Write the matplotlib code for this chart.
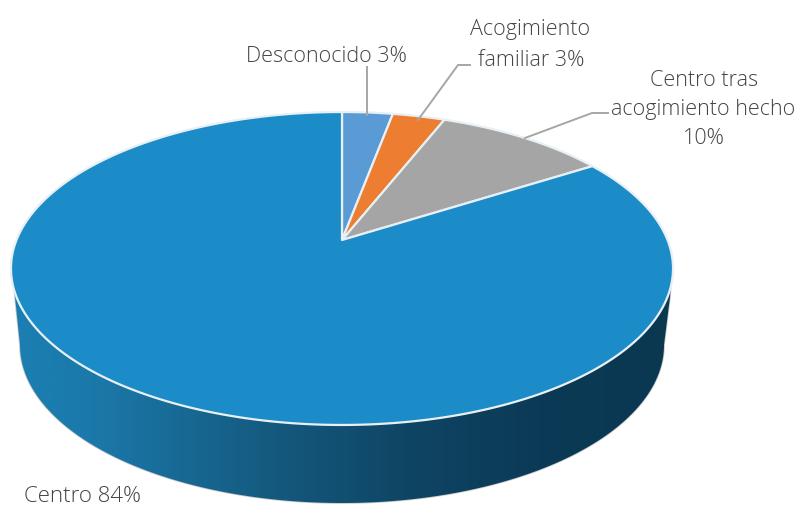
import numpy as np
import matplotlib.pyplot as plt
from matplotlib.patches import Polygon
from matplotlib.colors import LinearSegmentedColormap

categories = ['Desconocido', 'Acogimiento familiar', 'Centro tras acogimiento hecho', 'Centro']
values = [2.95, 3.05, 10, 84]
colors = ['#5b9bd5', '#ed7d31', '#a5a5a5', '#1c8cc8']

plt.rcParams['font.family'] = ['Open Sans', 'DejaVu Sans']
TXT = '#444444'
LINE = '#a6a6a6'

# pie seen in perspective: unit circle -> picture pixels
CX, CY = 342, 240
A, B, K = 325.5, 151.3, 0.182


def project(t):
    u, v = np.sin(t), np.cos(t)
    w = 1 + K * v
    return CX + A * u / w, CY - B * v / w


fig = plt.figure(figsize=(8.04, 5.07), dpi=100)
ax = fig.add_axes([0, 0, 1, 1])

# side wall
bot = np.linspace(np.pi, 0, 300)
bx = 342 + 322 * np.cos(bot)
by = 345 + 158 * np.sin(bot)
wall_pts = [(12, 268), (15, 297)] + list(zip(bx, by)) + [(670, 297), (672, 268)]
wall = Polygon(wall_pts, closed=True, facecolor='none', edgecolor='#c8c8c8', lw=1.2, zorder=1)
ax.add_patch(wall)
cmap = LinearSegmentedColormap.from_list('wall', [(0, '#1b7fb2'), (0.12, '#1b79aa'), (0.4, '#14597e'),
                                                  (0.6, '#0f4564'), (0.8, '#0b3a56'), (1, '#0a3851')])
im = ax.imshow(np.linspace(0, 1, 256).reshape(1, -1), cmap=cmap, extent=[12, 672, 507, 240],
               aspect='auto', zorder=2)
im.set_clip_path(wall)
ax.set_xlim(0, 804)
ax.set_ylim(507, 0)
ax.axis('off')

# slices
fracs = np.cumsum([0] + values) / sum(values) * 2 * np.pi
for i in range(len(values)):
    a = np.linspace(fracs[i], fracs[i + 1], 300)
    xs, ys = project(a)
    pts = [(CX, CY)] + list(zip(xs, ys))
    ax.add_patch(Polygon(pts, closed=True, facecolor=colors[i], edgecolor='#e8f0f5', lw=1.6,
                         joinstyle='round', zorder=3))

# leader lines
ax.plot([367, 367], [67, 115], color=LINE, lw=1.4, zorder=4)
ax.plot([470, 458, 418], [65, 65, 120], color=LINE, lw=1.4, zorder=4)
ax.plot([608, 592, 525], [113, 113, 138], color=LINE, lw=1.4, zorder=4)

fs = 15.5
kw = dict(ha='center', va='center', fontsize=fs, color=TXT, fontweight='light')
ax.text(326, 56, 'Desconocido 3%', **kw)
ax.text(530, 29, 'Acogimiento', **kw)
ax.text(531, 60, 'familiar 3%', **kw)
ax.text(704, 80, 'Centro tras', **kw)
ax.text(703, 110, 'acogimiento hecho', **kw)
ax.text(704, 139, '10%', **kw)
ax.text(83, 497, 'Centro 84%', ha='center', va='center', fontsize=16, color=TXT, fontweight='light')

fig.savefig('out.png', dpi=100)
